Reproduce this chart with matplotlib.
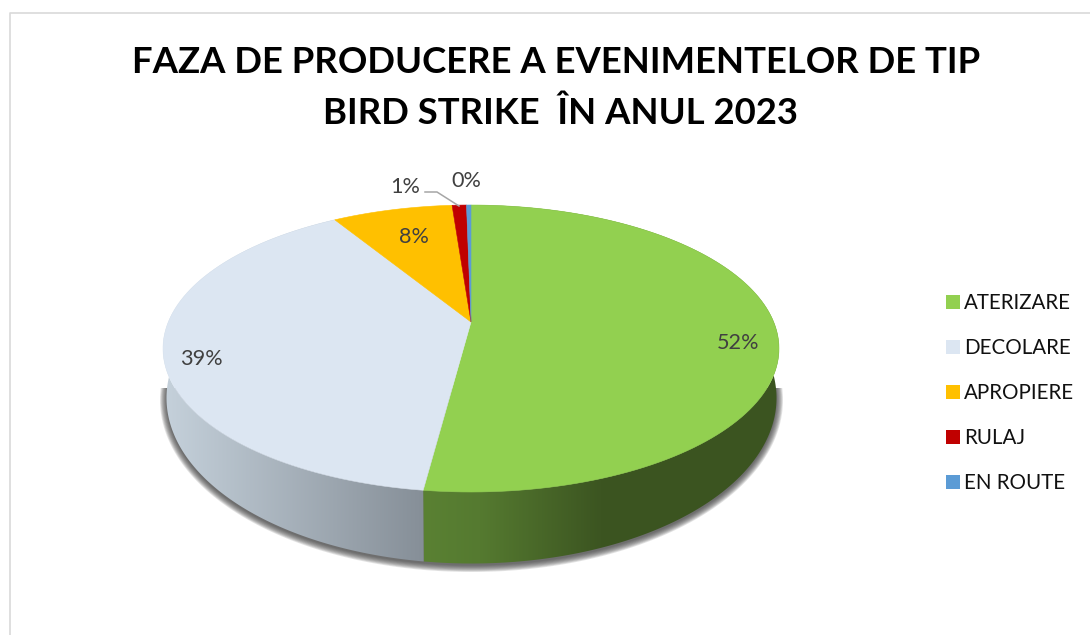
import numpy as np
import matplotlib
matplotlib.use("Agg")
import matplotlib.pyplot as plt
from matplotlib.patches import Polygon, Patch, Rectangle
from matplotlib.lines import Line2D

plt.rcParams['font.family'] = ['Lato', 'DejaVu Sans']

# data
categories = ["ATERIZARE", "DECOLARE", "APROPIERE", "RULAJ", "EN ROUTE"]
values = [52.06, 39.22, 7.54, 0.90, 0.28]
colors = ["#92D050", "#DCE6F2", "#FFC000", "#C00000", "#5B9BD5"]
title_text = "FAZA DE PRODUCERE A EVENIMENTELOR DE TIP \nBIRD STRIKE  ÎN ANUL 2023"

# pie geometry (pixels): perspective projection of a circle for the top face
CX, CY = 471.0, 322.0
A, B, K = 302.7, 138.6, -0.1847
# lower rim of the body
BX, BY, BRX, BRY = 471.5, 398.0, 305.0, 165.5
N = 240

def rim(theta):
    u = np.sin(theta)
    v = -np.cos(theta)
    d = 1 + K * v
    return np.column_stack([CX + A * u / d, CY + B * v / d])

def lower(phi, grow=0.0, dy=0.0):
    return np.column_stack([BX + (BRX + grow) * np.sin(phi),
                            BY + dy - (BRY + grow) * np.cos(phi)])

fig = plt.figure(figsize=(10.9, 6.35), dpi=100)
ax = fig.add_axes([0, 0, 1, 1])
ax.set_axis_off()

# chart frame
ax.add_line(Line2D([9.5, 9.5, 1090], [635, 12.5, 12.5], color="#D9D9D9", lw=1.2, zorder=1))

fr = np.array(values) / sum(values)
edges = np.concatenate([[0], np.cumsum(fr)]) * 2 * np.pi

# shadow under the body
full = np.linspace(0, 2 * np.pi, 720)
clip = Rectangle((100, 388), 800, 240, transform=ax.transData)
for g in np.linspace(6.5, 0.0, 9):
    sh = Polygon(lower(full, grow=g, dy=2.0), closed=True, fc="#404040", ec="none",
                 alpha=0.14, zorder=2)
    ax.add_patch(sh)
    sh.set_clip_path(clip)

# where the slice boundary at the front meets the lower rim
split_x = rim(np.array([edges[1]]))[0, 0] + 0.5
phi_split = np.pi - np.arcsin((split_x - BX) / BRX)

def gradient_wall(t0, t1, p0, p1, x0, x1, xs, cols):
    top = rim(np.linspace(t0, t1, N))
    bot = lower(np.linspace(p1, p0, N))
    poly = Polygon(np.vstack([top, bot]), closed=True, fc="none", ec="none", zorder=3)
    ax.add_patch(poly)
    gx = np.linspace(x0, x1, 600)
    rgb = np.array([matplotlib.colors.to_rgb(c) for c in cols])
    img = np.stack([np.interp(gx, xs, rgb[:, i]) for i in range(3)], axis=-1)[None, :, :]
    im = ax.imshow(img, extent=[x0, x1, 600, 150], aspect='auto', zorder=3, interpolation='bilinear')
    im.set_clip_path(poly)

gradient_wall(edges[0], edges[1], 0, phi_split, 415, 790, [423, 480, 600, 790],
              ["#5A8133", "#557A30", "#3C5521", "#3B5420"])
gradient_wall(edges[1], edges[2], phi_split, edges[2], 160, 430, [160, 423],
              ["#C6D2DC", "#868F98"])

# top face
for i, c in enumerate(colors):
    t = np.linspace(edges[i], edges[i + 1], max(4, int(N * fr[i]) + 2))
    pts = np.vstack([[CX, CY], rim(t)])
    ax.add_patch(Polygon(pts, closed=True, fc=c, ec=c, lw=0.4, zorder=4))

# percentage labels
label_pos = [(738, 343), (201, 359), (414, 237), (405, 187), (466, 181)]
for v, (x, y) in zip(fr, label_pos):
    ax.text(x, y, f"{100 * v:.0f}%", ha='center', va='center', fontsize=15.6,
            color="#404040", zorder=6)

# leader line for the small slice
ax.add_line(Line2D([425, 437, 459], [192, 192, 206], color="#A6A6A6", lw=1.1, zorder=5))

# title
ax.text(560.5, 88, title_text, ha='center', va='center', fontsize=26.25, fontweight='bold',
        color="black", linespacing=1.66, multialignment='center', zorder=6)

# legend
handles = [Patch(fc=c, ec='none') for c in colors]
ax.legend(handles, categories, loc='upper left', bbox_to_anchor=(946, 293),
          bbox_transform=ax.transData, frameon=False, fontsize=14.8,
          handlelength=0.68, handleheight=0.68, handletextpad=0.2,
          labelspacing=1.22, borderpad=0, borderaxespad=0, labelcolor="#111111")

ax.set_xlim(0, 1090)
ax.set_ylim(635, 0)
fig.savefig("out.png", dpi=100, facecolor="white")
